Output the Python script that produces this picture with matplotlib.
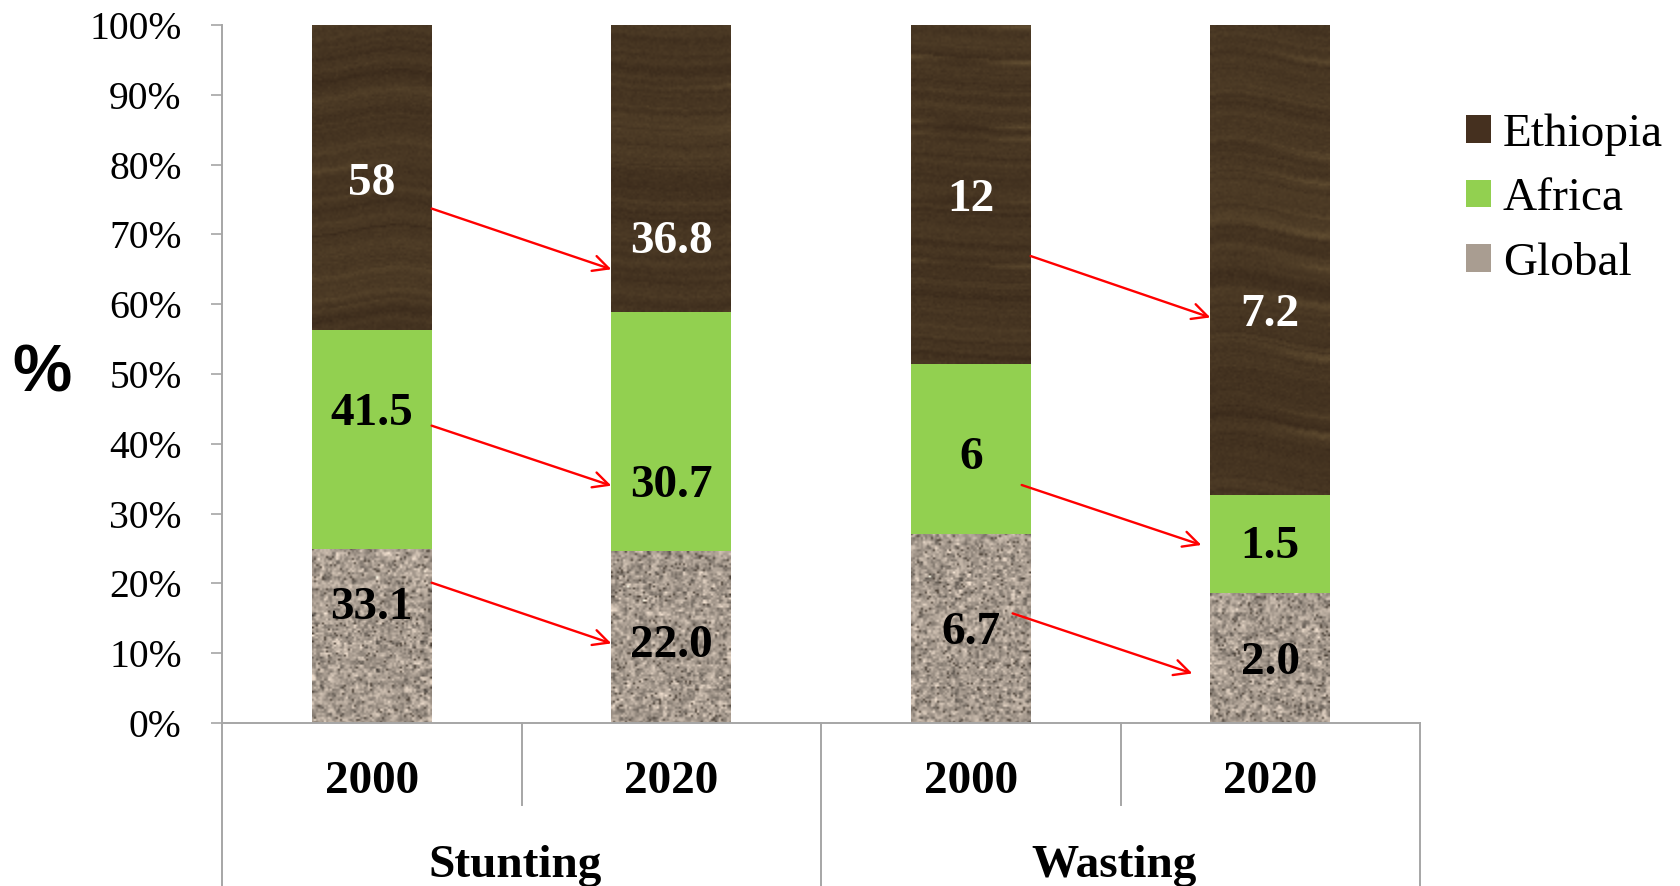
import numpy as np
import matplotlib
matplotlib.use("Agg")
import matplotlib.pyplot as plt
from matplotlib.patches import Patch

# ---- data -------------------------------------------------------------
indicators = ["Stunting", "Wasting"]
years = ["2000", "2020", "2000", "2020"]
series_names = ["Global", "Africa", "Ethiopia"]

global_vals = [33.1, 22.0, 6.7, 2.0]
africa_vals = [41.5, 30.7, 6, 1.5]
ethiopia_vals = [58, 36.8, 12, 7.2]

global_dec = [1, 1, 1, 1]
africa_dec = [1, 1, 0, 1]
ethiopia_dec = [0, 1, 0, 1]

# ---- styling ----------------------------------------------------------
SERIF = "Liberation Serif"
SANS = "Liberation Sans"
GRAY = "#A6A6A6"
GREEN = "#92D050"
BAR_W = 0.4

# vertical nudges (percentage points) for value labels
label_nudge = {
    ("Global", 0): 4.0, ("Africa", 0): 3.6, ("Ethiopia", 0): -0.9,
    ("Global", 1): -1.3, ("Africa", 1): -7.8, ("Ethiopia", 1): -10.5,
    ("Global", 2): -0.6, ("Africa", 2): -1.3, ("Ethiopia", 2): -0.8,
    ("Global", 3): -0.8, ("Africa", 3): -0.5, ("Ethiopia", 3): -7.9,
}
# trend arrows: (category from, category to, y start %, y end %, x inset)
arrows = [
    (0, 1, 73.7, 65.0, 0.0), (0, 1, 42.6, 34.0, 0.0), (0, 1, 20.1, 11.4, 0.0),
    (2, 3, 66.9, 58.1, 0.0), (2, 3, 34.1, 25.5, 0.03), (2, 3, 15.7, 7.1, 0.06),
]

rng = np.random.default_rng(11)


def smooth(a, k):
    return np.convolve(a, np.ones(k) / k, mode="same")


def wood_texture(h, w):
    pad = 40
    n_rows = h + 2 * pad
    rows = smooth(rng.normal(0, 1, n_rows), 2) * 0.6 + smooth(rng.normal(0, 1, n_rows), 9) * 1.4
    streak = np.zeros(n_rows)
    n = max(2, n_rows // 26)
    for k in rng.choice(n_rows, size=n, replace=False):
        streak[k] = rng.uniform(0.5, 1.2)
    streak = np.convolve(streak, [0.25, 0.6, 1.0, 0.6, 0.25], mode="same")
    y = np.arange(h)[:, None]
    x = np.arange(w)[None, :]
    shift = np.round(np.sin(x / w * np.pi * rng.uniform(0.6, 1.4) + rng.uniform(0, 6))
                     * rng.uniform(1.5, 4.0)).astype(int)
    idx = np.clip(y + pad + shift, 0, n_rows - 1)
    fade = 0.5 + 0.5 * np.sin(x / w * np.pi * rng.uniform(0.8, 2.0) + rng.uniform(0, 6))
    val = 0.24 + 0.06 * rows[idx] + 0.22 * streak[idx] * fade + rng.normal(0, 0.025, (h, w))
    t = np.clip(val, 0, 1)[..., None]
    dark = np.array([46, 31, 20]) / 255
    light = np.array([150, 126, 80]) / 255
    return np.clip(dark + t * (light - dark), 0, 1)


def granite_texture(h, w):
    fine = rng.normal(0, 1, (h, w))
    coarse = rng.normal(0, 1, (h // 2 + 2, w // 2 + 2))
    coarse = np.kron(coarse, np.ones((2, 2)))[:h, :w]
    noise = 0.6 * fine + 0.6 * coarse
    base = np.array([168, 156, 144]) / 255
    img = base + noise[..., None] * np.array([32, 30, 28]) / 255
    specks = rng.random((h, w)) < 0.04
    img[specks] = np.array([80, 70, 60]) / 255
    return np.clip(img, 0, 1)


fig = plt.figure(figsize=(16.8, 8.86), dpi=100)
ax = fig.add_axes([222 / 1680, 1 - 723 / 886, (1420 - 222) / 1680, (723 - 25) / 886])

x = np.arange(len(years))
stack = np.vstack([global_vals, africa_vals, ethiopia_vals]).astype(float)
decs = [global_dec, africa_dec, ethiopia_dec]
pct = stack / stack.sum(axis=0) * 100
bottoms = np.vstack([np.zeros(len(x)), np.cumsum(pct, axis=0)[:-1]])

face = {"Global": "#A99D91", "Africa": GREEN, "Ethiopia": "#45301F"}
for si, name in enumerate(series_names):
    bars = ax.bar(x, pct[si], bottom=bottoms[si], width=BAR_W,
                  color=face[name], edgecolor="none", zorder=2)
    for ci, bar in enumerate(bars):
        x0, y0 = bar.get_x(), bar.get_y()
        bw, bh = bar.get_width(), bar.get_height()
        if name != "Africa":
            step = 2.0 if name == "Ethiopia" else 2.0
            hpx = max(4, int(bh * 6.98 / step))
            if name == "Ethiopia":
                tex = wood_texture(hpx, 60)
            else:
                tex = granite_texture(hpx, int(121 / step))
            im = ax.imshow(tex, extent=(x0, x0 + bw, y0, y0 + bh), aspect="auto",
                           interpolation="bilinear", zorder=2.5)
            im.set_clip_path(bar)
        # value label
        val = stack[si, ci]
        txt = f"{val:.{decs[si][ci]}f}"
        ypos = y0 + bh / 2 + label_nudge.get((name, ci), 0.0)
        ax.text(x0 + bw / 2, ypos, txt, ha="center", va="center",
                family=SERIF, fontweight="bold", fontsize=34,
                color="white" if name == "Ethiopia" else "black", zorder=4)

for c0, c1, ya, yb, inset in arrows:
    ax.annotate("", xy=(x[c1] - BAR_W / 2 - inset, yb),
                xytext=(x[c0] + BAR_W / 2 - inset, ya),
                arrowprops=dict(arrowstyle="->", color="#FF0000", lw=1.7,
                                mutation_scale=28, shrinkA=0, shrinkB=0),
                zorder=5)

ax.set_xlim(-0.5, len(years) - 0.5)
ax.set_ylim(0, 100)
ax.set_yticks(np.arange(0, 101, 10))
ax.set_yticklabels([f"{v}%" for v in range(0, 101, 10)], family=SERIF, fontsize=28.5)
ax.tick_params(axis="y", direction="out", length=8, width=1.2, color=GRAY, pad=21)
ax.set_xticks([])
for s in ("top", "right"):
    ax.spines[s].set_visible(False)
for s in ("left", "bottom"):
    ax.spines[s].set_color(GRAY)
    ax.spines[s].set_linewidth(1.4)

# two-level category axis
trans = ax.get_xaxis_transform()
for xi, yr in zip(x, years):
    ax.text(xi, -0.085, yr, transform=trans, ha="center", va="center",
            family=SERIF, fontweight="bold", fontsize=34, clip_on=False)
for gi, grp in enumerate(indicators):
    ax.text(2 * gi + 0.48, -0.205, grp, transform=trans, ha="center", va="center",
            family=SERIF, fontweight="bold", fontsize=34, clip_on=False)
for gi in range(len(indicators)):
    xm = 2 * gi + 0.5
    ax.plot([xm, xm], [0, -0.1175], transform=trans, color=GRAY, lw=1.4,
            clip_on=False, zorder=1)
for xb in (-0.5, 1.5, 3.5):
    ax.plot([xb, xb], [0, -0.3], transform=trans, color=GRAY, lw=1.4,
            clip_on=False, zorder=1)

fig.text(42 / 1680, 1 - 375 / 886, "%", family=SANS, fontweight="bold",
         fontsize=48, ha="center", va="center")

handles = [Patch(facecolor=face[n], edgecolor="none") for n in reversed(series_names)]
leg = fig.legend(handles, list(reversed(series_names)), loc="upper left",
                 bbox_to_anchor=(1466 / 1680, 1 - 113 / 886), frameon=False,
                 prop={"family": SERIF, "size": 34}, borderpad=0, borderaxespad=0,
                 handlelength=0.53, handleheight=0.53, handletextpad=0.25,
                 labelspacing=0.47)

fig.savefig("out.png", dpi=100, facecolor="white")
